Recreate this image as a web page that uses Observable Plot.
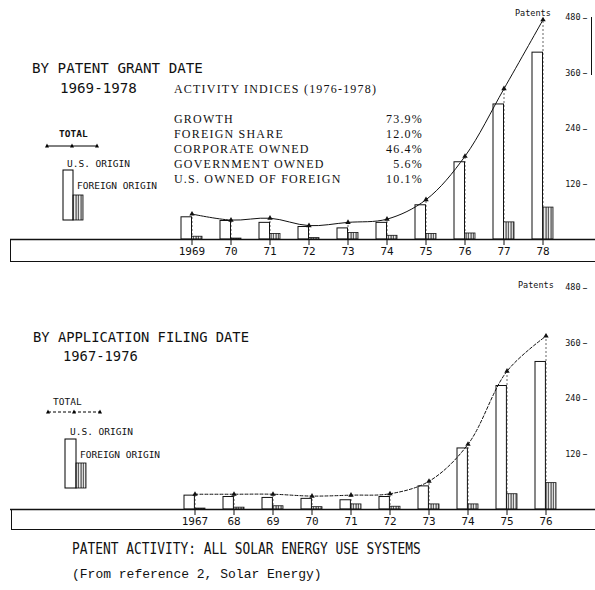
<!DOCTYPE html>
<html><head><meta charset="utf-8">
<script src="https://cdn.jsdelivr.net/npm/d3@7"></script>
<script src="https://cdn.jsdelivr.net/npm/@observablehq/plot@0.6"></script>
<style>
body{margin:0;background:#fff;}
#wrap{position:relative;width:595px;height:590px;overflow:hidden;background:#fff;color:#111;}
.abs{position:absolute;white-space:nowrap;line-height:1;}
.plotter{font-family:"DejaVu Sans Mono",monospace;}
.serif{font-family:"Liberation Serif",serif;letter-spacing:1.2px;font-size:12px;}
.small{font-family:"DejaVu Sans Mono",monospace;font-size:9.5px;}
svg.leg{position:absolute;overflow:visible;}
</style></head><body>
<svg width="0" height="0" style="position:absolute">
  <defs>
    <pattern id="hatch" width="2.5" height="4" patternUnits="userSpaceOnUse">
      <rect width="2.5" height="4" fill="white"/>
      <line x1="1" y1="0" x2="1" y2="4" stroke="black" stroke-width="0.9"/>
    </pattern>
  </defs>
</svg>
<div id="wrap">
  <div id="top" class="abs" style="left:0;top:0;"></div>
  <div id="bottom" class="abs" style="left:0;top:270px;"></div>

  <!-- upper panel texts -->
  <div class="abs plotter" style="left:32px;top:61px;font-size:14.2px;">BY PATENT GRANT DATE</div>
  <div class="abs plotter" style="left:60px;top:81px;font-size:14.2px;">1969-1978</div>
  <div class="abs serif" style="left:174px;top:83px;">ACTIVITY INDICES (1976-1978)</div>
  <div id="indices"></div>
  <div class="abs small" style="left:59px;top:129px;font-weight:bold;">TOTAL</div>
  <div class="abs small" style="left:67px;top:159px;">U.S. ORIGIN</div>
  <div class="abs small" style="left:77px;top:181px;">FOREIGN ORIGIN</div>
  <svg class="leg" style="left:0;top:0" width="595" height="270">
    <line x1="47" y1="146" x2="97" y2="146" stroke="black" stroke-width="1"/>
    <polygon points="47,143.5 45,147.5 49,147.5" fill="black"/>
    <polygon points="72,143.5 70,147.5 74,147.5" fill="black"/>
    <polygon points="97,143.5 95,147.5 99,147.5" fill="black"/>
    <rect x="63" y="170" width="10" height="50" fill="white" stroke="black"/>
    <rect x="73" y="195" width="10" height="25" fill="url(#hatch)" stroke="black" stroke-width="0.8"/>
  </svg>
  <div class="abs" style="left:515px;top:8.5px;font-family:'DejaVu Sans Mono',monospace;font-size:8.5px;">Patents</div>
  <div class="abs" style="left:591px;top:17px;height:58px;border-left:1px solid #111;"></div>
  <div class="abs" style="left:10px;top:240px;width:585px;height:21px;border-left:1px solid #111;border-bottom:1.5px solid #111;"></div>

  <!-- lower panel texts -->
  <div class="abs plotter" style="left:33px;top:331px;font-size:13.8px;">BY APPLICATION FILING DATE</div>
  <div class="abs plotter" style="left:63px;top:350px;font-size:13.8px;">1967-1976</div>
  <div class="abs small" style="left:53px;top:397px;">TOTAL</div>
  <div class="abs small" style="left:70px;top:427px;">U.S. ORIGIN</div>
  <div class="abs small" style="left:80px;top:450px;">FOREIGN ORIGIN</div>
  <svg class="leg" style="left:0;top:0" width="595" height="590">
    <line x1="48" y1="412" x2="100" y2="412" stroke="black" stroke-width="1" stroke-dasharray="3,2"/>
    <polygon points="48,409.5 46,413.5 50,413.5" fill="black"/>
    <polygon points="74,409.5 72,413.5 76,413.5" fill="black"/>
    <polygon points="100,409.5 98,413.5 102,413.5" fill="black"/>
    <rect x="65" y="439" width="11" height="49" fill="white" stroke="black"/>
    <rect x="76" y="463" width="10" height="25" fill="url(#hatch)" stroke="black" stroke-width="0.8"/>
  </svg>
  <div class="abs" style="left:518px;top:281px;font-family:'DejaVu Sans Mono',monospace;font-size:8.5px;">Patents</div>
  <div class="abs" style="left:11px;top:509px;width:584px;height:20px;border-left:1px solid #111;border-bottom:1.5px solid #111;"></div>

  <!-- captions -->
  <div class="abs plotter" style="left:72px;top:541px;font-size:16.5px;transform:scaleX(0.78);transform-origin:left top;">PATENT ACTIVITY: ALL SOLAR ENERGY USE SYSTEMS</div>
  <div class="abs" style="left:72px;top:568px;font-family:'Liberation Mono',monospace;font-size:13px;">(From reference 2, Solar Energy)</div>
</div>
<script>
// ---- data ----
const grantYears = [1969, 1970, 1971, 1972, 1973, 1974, 1975, 1976, 1977, 1978];
const grantUS      = [48, 40, 36, 27, 24, 36, 74, 167, 292, 404];
const grantForeign = [6, 2, 12, 3, 14, 8, 12, 13, 37, 69];
const grantTotal   = [55, 42, 46, 30, 37, 44, 86, 180, 326, 475];

const filingYears = [1967, 1968, 1969, 1970, 1971, 1972, 1973, 1974, 1975, 1976];
const filingUS      = [30, 27, 25, 23, 20, 27, 50, 132, 267, 319];
const filingForeign = [2, 4, 7, 5, 11, 6, 11, 11, 33, 57];
const filingTotal   = [33, 33, 33, 29, 31, 34, 61, 141, 299, 375];

const yTicks = [120, 240, 360, 480];

const indexLabels = ["GROWTH", "FOREIGN SHARE", "CORPORATE OWNED", "GOVERNMENT OWNED", "U.S. OWNED OF FOREIGN"];
const indexValues = ["73.9%", "12.0%", "46.4%", "5.6%", "10.1%"];

// ---- indices block ----
const ind = document.getElementById("indices");
indexLabels.forEach((lab, i) => {
  const top = 113 + i * 15;
  const a = document.createElement("div");
  a.className = "abs serif"; a.style.left = "174px"; a.style.top = top + "px"; a.textContent = lab;
  const b = document.createElement("div");
  b.className = "abs serif"; b.style.left = "300px"; b.style.width = "123px"; b.style.textAlign = "right";
  b.style.top = top + "px"; b.textContent = indexValues[i];
  ind.appendChild(a); ind.appendChild(b);
});

function panel(years, us, foreign, total, xRange, inset, dash) {
  const data = years.map((y, i) => ({year: y, us: us[i], foreign: foreign[i], total: total[i]}));
  return Plot.plot({
    width: 595, height: 265,
    marginTop: 17, marginBottom: 26, marginLeft: 10, marginRight: 0,
    style: {background: "transparent", color: "#111", overflow: "visible"},
    x: {type: "band", domain: years, range: xRange, paddingInner: 0.46, paddingOuter: 0.23, axis: null},
    y: {domain: [0, 480], axis: null},
    marks: [
      Plot.ruleX(data, {x: "year", y1: 0, y2: "total", stroke: "#222", strokeWidth: 0.7, strokeDasharray: "2,2"}),
      Plot.barY(data, {x: "year", y: "us", insetRight: inset, fill: "white", stroke: "#111", strokeWidth: 1}),
      Plot.barY(data, {x: "year", y: "foreign", insetLeft: inset, fill: "url(#hatch)", stroke: "#111", strokeWidth: 0.8}),
      Plot.ruleY([0], {stroke: "#111", strokeWidth: 1.5}),
      Plot.axisX({
        label: null, tickSize: 6, tickPadding: 2, fontSize: 11, fontFamily: "DejaVu Sans Mono",
        tickFormat: d => d === years[0] ? String(d) : String(d).slice(2)
      }),
      Plot.line(data, {x: "year", y: "total", curve: "catmull-rom", stroke: "#111", strokeWidth: 1, strokeDasharray: dash}),
      Plot.dot(data, {x: "year", y: "total", symbol: "triangle", r: 2, fill: "#111"}),
      Plot.text(yTicks, {y: d => d, text: d => String(d), frameAnchor: "right", textAnchor: "end", dx: -15, fontSize: 8.5, fontFamily: "DejaVu Sans Mono"}),
      Plot.text(yTicks, {y: d => d, text: () => "–", frameAnchor: "right", dx: -8, fontSize: 10, fontFamily: "DejaVu Sans"})
    ]
  });
}

document.getElementById("top").appendChild(
  panel(grantYears, grantUS, grantForeign, grantTotal, [172.5, 562.5], 10.5, null));
document.getElementById("bottom").appendChild(
  panel(filingYears, filingUS, filingForeign, filingTotal, [173.3, 567.3], 10.6, "3,2"));
</script>
</body></html>
